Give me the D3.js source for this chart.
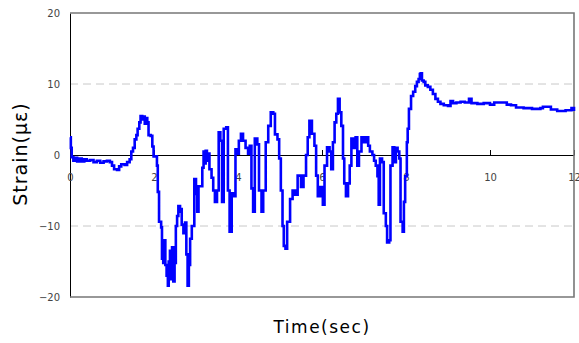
<!DOCTYPE html>
<html>
<head>
<meta charset="utf-8">
<script src="https://cdn.jsdelivr.net/npm/d3@7"></script>
<style>
  body { margin: 0; background: #fff; }
  svg { display: block; }
  .tick text { font-family: "DejaVu Sans", sans-serif; font-size: 10px; fill: #444; }
  .axis-title { font-family: "DejaVu Sans", sans-serif; fill: #000; }
</style>
</head>
<body>
<svg width="579" height="343"></svg>
<script>
  // readings: time (sec) and strain (με)
  const timeSec = [
    0.00, 0.02, 0.04, 0.08, 0.12, 0.17, 0.22, 0.28, 0.34, 0.40, 0.48, 0.56, 0.64, 0.72, 0.80, 0.88, 0.95,
    1.00, 1.05, 1.12, 1.17, 1.22, 1.30, 1.36, 1.42, 1.46, 1.50, 1.54, 1.58, 1.61, 1.65, 1.68, 1.72, 1.74,
    1.78, 1.81, 1.84, 1.87, 1.92, 1.96, 1.99, 2.07, 2.09, 2.12, 2.17, 2.19, 2.22, 2.24, 2.27, 2.30, 2.33,
    2.35, 2.38, 2.40, 2.43, 2.46, 2.49, 2.52, 2.55, 2.58, 2.62, 2.64, 2.66, 2.70, 2.74, 2.77, 2.80, 2.83,
    2.86, 2.90, 2.96, 3.00, 3.03, 3.06, 3.12, 3.15, 3.18, 3.20, 3.23, 3.26, 3.29, 3.32, 3.37, 3.41, 3.45,
    3.50, 3.54, 3.58, 3.62, 3.66, 3.72, 3.76, 3.80, 3.85, 3.90, 3.94, 3.98, 4.02, 4.07, 4.12, 4.18, 4.24,
    4.28, 4.32, 4.36, 4.40, 4.46, 4.50, 4.56, 4.60, 4.66, 4.72, 4.78, 4.84, 4.88, 4.94, 4.98, 5.02, 5.06,
    5.09, 5.13, 5.17, 5.24, 5.30, 5.36, 5.42, 5.50, 5.56, 5.62, 5.66, 5.70, 5.76, 5.82, 5.86, 5.90, 5.96,
    6.02, 6.06, 6.12, 6.18, 6.22, 6.26, 6.30, 6.34, 6.38, 6.42, 6.46, 6.50, 6.53, 6.57, 6.62, 6.66, 6.70,
    6.76, 6.80, 6.84, 6.88, 6.94, 7.00, 7.06, 7.10, 7.14, 7.20, 7.24, 7.28, 7.32, 7.35, 7.38, 7.43, 7.47,
    7.52, 7.55, 7.60, 7.63, 7.68, 7.72, 7.76, 7.80, 7.84, 7.87, 7.92, 7.95, 7.98, 8.02, 8.04, 8.07, 8.12,
    8.17, 8.22, 8.26, 8.30, 8.33, 8.35, 8.38, 8.42, 8.46, 8.52, 8.58, 8.64, 8.70, 8.76, 8.82, 8.90, 9.00,
    9.06, 9.12, 9.20, 9.30, 9.40, 9.50, 9.56, 9.70, 9.85, 10.00, 10.10, 10.30, 10.40, 10.50, 10.62, 10.80,
    11.00, 11.20, 11.26, 11.45, 11.60, 11.80, 11.94, 12.00
  ];
  const strain = [
    2.5, 1.0, -0.3, -0.8, -0.4, -0.9, -0.5, -0.9, -0.6, -0.8, -0.7, -1.0, -0.8, -1.1, -0.9, -0.8, -1.0,
    -1.5, -2.0, -2.1, -1.6, -1.3, -1.4, -1.0, -0.6, 0.5, 1.0, 2.2, 2.8, 3.7, 4.6, 5.5, 5.0, 5.4,
    4.4, 5.2, 4.6, 2.8, 2.7, 1.2, -0.2, -1.5, -5.2, -9.4, -10.2, -14.6, -15.2, -12.0, -15.5, -17.0, -18.4,
    -15.0, -13.5, -17.5, -13.0, -17.8, -15.2, -10.0, -8.6, -7.2, -8.0, -7.6, -9.8, -11.0, -9.5, -14.0, -18.4, -15.5,
    -11.8, -10.0, -3.4, -5.5, -8.0, -4.4, -4.4, -1.8, 0.5, -1.2, 0.6, -0.8, 0.2, -2.0, -3.2, -5.0, -6.6,
    -5.0, 3.2, 2.0, -6.6, 3.7, 3.9, -5.0, -10.8, -5.4, -5.8, 0.8, 0.2, 2.0, 3.0, 2.0, 1.0, 0.2,
    1.3, -4.7, -8.0, 2.3, 1.5, -5.0, -8.0, -5.0, 1.8, 4.1, 6.0, 5.8, 2.9, 2.2, -0.5, -5.0, -10.0,
    -12.8, -13.2, -9.4, -6.2, -5.0, -5.6, -2.9, -4.5, -2.9, 0.0, 2.5, 4.8, 3.0, 1.3, -2.9, -5.8, -4.5,
    -7.0, -1.5, 1.1, 0.5, -2.0, 1.8, 4.6, 5.8, 7.9, 6.0, 4.1, -0.5, -4.0, -5.8, -4.0, -1.5, 2.3,
    1.0, 2.5, -1.5, 0.5, 2.5, 1.8, 2.5, 1.3, 0.5, 0.0, -0.8, -1.5, -3.0, -7.0, -0.5, -1.0, -8.2,
    -10.0, -12.3, -12.0, -1.5, 1.1, -1.0, 1.0, 0.5, -0.5, -9.4, -10.8, -6.6, -3.0, 1.8, 3.7, 6.5, 8.3,
    8.9, 9.7, 10.3, 10.7, 11.4, 11.5, 10.5, 10.3, 9.8, 9.6, 9.2, 8.6, 7.9, 7.5, 7.2, 7.0, 6.9,
    7.6, 7.3, 7.4, 7.5, 7.4, 7.9, 7.3, 7.2, 7.3, 7.1, 7.4, 7.4, 7.1, 7.0, 6.7, 6.6,
    6.5, 6.6, 6.8, 6.4, 6.2, 6.3, 6.6, 6.2
  ];
  const xTicks = [0, 2, 4, 6, 8, 10, 12];
  const yTicks = [-20, -10, 0, 10, 20];
  const gridValues = [10, -10];

  const svg = d3.select('svg');
  const width = +svg.attr('width');
  const height = +svg.attr('height');
  const margin = { top: 13, right: 5, bottom: 46, left: 70 };

  const xScale = d3.scaleLinear().domain([0, 12]).range([margin.left, width - margin.right]);
  const yScale = d3.scaleLinear().domain([-20, 20]).range([height - margin.bottom, margin.top]);

  // dashed grid
  svg.append('g')
    .selectAll('line').data(gridValues)
    .enter().append('line')
      .attr('x1', xScale(0)).attr('x2', xScale(12))
      .attr('y1', d => yScale(d)).attr('y2', d => yScale(d))
      .attr('stroke', '#c8c8c8')
      .attr('stroke-dasharray', '8,5');

  // y axis
  const yAxisG = svg.append('g')
    .attr('transform', `translate(${xScale(0)},0)`)
    .call(d3.axisLeft(yScale).tickValues(yTicks).tickSize(0).tickPadding(10));
  yAxisG.select('.domain').attr('stroke', '#000');

  // x axis on the zero line, ticks pointing up
  const xAxisG = svg.append('g')
    .attr('transform', `translate(0,${yScale(0)})`)
    .call(d3.axisBottom(xScale).tickValues(xTicks).tickSize(-5).tickPadding(19).tickSizeOuter(0));
  xAxisG.select('.domain').attr('stroke', '#000');
  xAxisG.selectAll('.tick line').attr('stroke', '#000');

  // plot frame (top, right, bottom gray), drawn over the tick labels like the original
  svg.append('path')
    .attr('d', `M${xScale(0)},${yScale(20)}H${xScale(12)}V${yScale(-20)}H${xScale(0)}`)
    .attr('fill', 'none')
    .attr('stroke', '#777')
    .attr('stroke-width', 1.6);

  const line = d3.line()
    .x((d, i) => xScale(timeSec[i]))
    .y(d => yScale(d))
    .curve(d3.curveStepAfter);

  svg.append('path')
    .datum(strain)
    .attr('fill', 'none')
    .attr('stroke', '#0000ff')
    .attr('stroke-width', 2.6)
    .attr('d', line);

  svg.append('text')
    .attr('class', 'axis-title')
    .attr('x', 322).attr('y', 333)
    .attr('text-anchor', 'middle')
    .attr('font-size', 17)
    .attr('letter-spacing', 1.5)
    .text('Time(sec)');

  svg.append('text')
    .attr('class', 'axis-title')
    .attr('transform', `translate(27,154) rotate(-90)`)
    .attr('text-anchor', 'middle')
    .attr('font-size', 19)
    .attr('letter-spacing', 1)
    .text('Strain(με)');
</script>
</body>
</html>
